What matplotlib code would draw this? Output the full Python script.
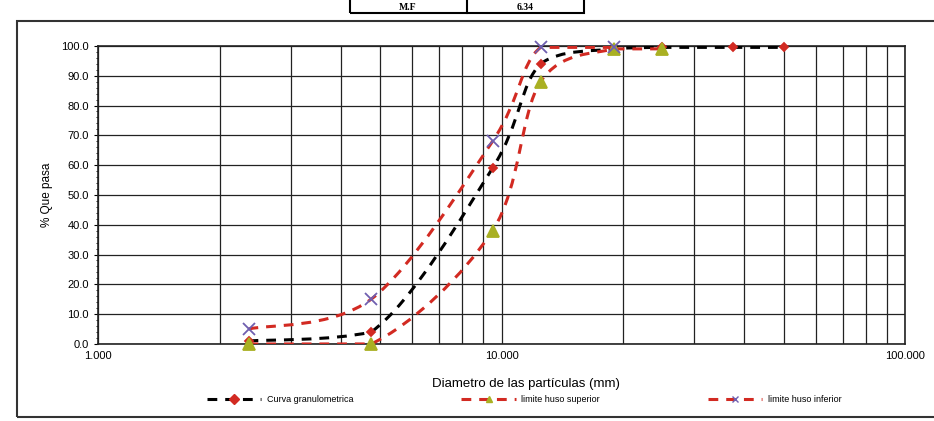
import numpy as np
import matplotlib
matplotlib.use("Agg")
import matplotlib.pyplot as plt
from matplotlib.path import Path
from matplotlib.patches import PathPatch, Rectangle
from matplotlib.lines import Line2D

plt.rcParams['font.family'] = ['Liberation Sans', 'DejaVu Sans']

# sieve openings (mm) and percent passing
tamiz_curva = [2.36, 4.75, 9.5, 12.5, 19.0, 25.0, 37.5, 50.0]
pasa_curva = [1.0, 4.0, 59.0, 94.0, 99.0, 99.5, 99.5, 99.5]

tamiz_sup = [2.36, 4.75, 9.5, 12.5, 19.0, 25.0]
pasa_sup = [0.0, 0.0, 38.0, 88.0, 99.0, 99.0]

tamiz_inf = [2.36, 4.75, 9.5, 12.5, 19.0]
pasa_inf = [5.0, 15.0, 68.0, 99.5, 99.5]

y_ticks = [0, 10, 20, 30, 40, 50, 60, 70, 80, 90, 100]
x_ticks = [1, 10, 100]
x_labels = ['1.000', '10.000', '100.000']

modulo_finura = '6.34'


def smooth_path(xs, ys):
    # cubic bezier segments (Catmull-Rom style) in log-x space,
    # control points kept inside each segment's y range
    lx = np.log10(xs)
    ys = np.asarray(ys, dtype=float)
    n = len(lx)
    verts = [(xs[0], ys[0])]
    codes = [Path.MOVETO]
    for i in range(n - 1):
        i0 = max(i - 1, 0)
        i3 = min(i + 2, n - 1)
        lo, hi = min(ys[i], ys[i + 1]), max(ys[i], ys[i + 1])
        c1x = lx[i] + (lx[i + 1] - lx[i0]) / 6.0
        c1y = np.clip(ys[i] + (ys[i + 1] - ys[i0]) / 6.0, lo, hi)
        c2x = lx[i + 1] - (lx[i3] - lx[i]) / 6.0
        c2y = np.clip(ys[i + 1] - (ys[i3] - ys[i]) / 6.0, lo, hi)
        verts += [(10 ** c1x, c1y), (10 ** c2x, c2y), (xs[i + 1], ys[i + 1])]
        codes += [Path.CURVE4] * 3
    return Path(verts, codes)


fig = plt.figure(figsize=(9.34, 4.21), dpi=100)
ax = fig.add_axes([0.105, 0.183, 0.864, 0.708])

ax.set_xscale('log')
ax.set_xlim(1, 100)
ax.set_ylim(0, 100)

rojo = '#d22a22'
dash = (0, (3.2, 2.6))
series = [
    (tamiz_curva, pasa_curva, 'black', 'D', rojo, 4.5, 'Curva granulometrica'),
    (tamiz_sup, pasa_sup, rojo, '^', '#a9b023', 9, 'limite huso superior'),
    (tamiz_inf, pasa_inf, rojo, 'x', '#6f5fb0', 9, 'limite huso inferior'),
]

handles = []
for xs, ys, lc, mk, mc, ms, name in series:
    patch = PathPatch(smooth_path(xs, ys), fill=False, edgecolor=lc,
                      linewidth=2.2, linestyle=dash, zorder=3)
    ax.add_patch(patch)
    ax.plot(xs, ys, linestyle='none', marker=mk, color=mc, markersize=ms,
            markeredgewidth=1.3, zorder=4, clip_on=False)
    handles.append(Line2D([], [], color=lc, linewidth=2.2, linestyle=dash,
                          marker=mk, markerfacecolor=mc, markeredgecolor=mc,
                          markersize=5, label=name))

ax.set_yticks(y_ticks)
ax.set_yticklabels([f'{v:.1f}' for v in y_ticks], fontsize=8)
ax.set_yticks(np.arange(0, 101, 2), minor=True)
ax.set_xticks(x_ticks)
ax.set_xticklabels(x_labels, fontsize=8)
ax.tick_params(axis='x', which='both', length=0, pad=5)
ax.tick_params(axis='y', which='major', length=3, width=0.8)
ax.tick_params(axis='y', which='minor', length=1.5, width=0.6)

ax.grid(True, which='major', axis='both', color='#222222', linewidth=0.9)
ax.grid(True, which='minor', axis='x', color='#222222', linewidth=0.9)
for s in ax.spines.values():
    s.set_linewidth(1.2)
    s.set_color('#222222')

ax.set_xlabel('Diametro de las partículas (mm)', fontsize=9.5)
ax.xaxis.set_label_coords(0.53, -0.115)
ax.set_ylabel('% Que pasa', fontsize=8.5, labelpad=6)

fig.legend(handles=handles, loc='center left', bbox_to_anchor=(207 / 934, 0.05), ncol=3,
           frameon=False, fontsize=6.5, columnspacing=12, handlelength=6,
           handletextpad=0.6, borderaxespad=0, borderpad=0)

# outer chart frame
fig.patches.append(Rectangle((17 / 934, 4 / 421), 940 / 934, 396 / 421,
                             transform=fig.transFigure, fill=False,
                             edgecolor='#333333', linewidth=1.5))

# fineness modulus cell at the top
fig.patches.append(Rectangle((350 / 934, 408 / 421), 234 / 934, 20 / 421,
                             transform=fig.transFigure, fill=False,
                             edgecolor='black', linewidth=1.5))
fig.add_artist(Line2D([467 / 934, 467 / 934], [408 / 421, 1], color='black',
                      linewidth=1.5, transform=fig.transFigure))
fig.text(408 / 934, 413 / 421, 'M.F', ha='center', va='center', fontsize=7,
         fontweight='bold', family='Liberation Serif')
fig.text(525 / 934, 413 / 421, modulo_finura, ha='center', va='center', fontsize=7,
         fontweight='bold', family='Liberation Serif')

fig.savefig('out.png', dpi=100)
